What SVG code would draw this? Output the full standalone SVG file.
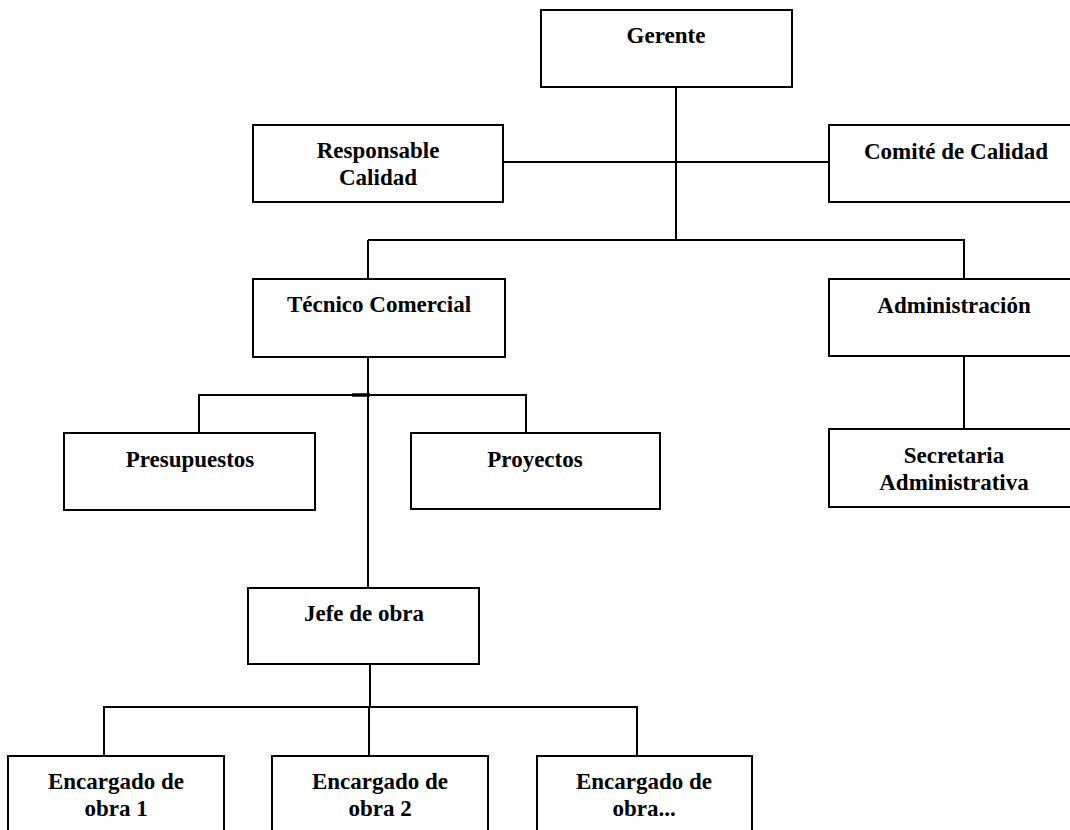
<svg xmlns="http://www.w3.org/2000/svg" width="1070" height="830" viewBox="0 0 1070 830">
<style>
.box{fill:#fff;stroke:#000;stroke-width:2}
.ln{fill:none;stroke:#000;stroke-width:2}
text{font-family:"Liberation Serif","Times New Roman",serif;font-weight:bold;font-size:23px;text-anchor:middle;fill:#000}
</style>
<rect width="1070" height="830" fill="#fff"/>
<g id="connectors">
<path class="ln" d="M676 87V240M503 162H829M368 240H964V279M368 240V279M368 357V588M199 433V395H526V433M964 356V429M370 664V707M104 756V707H637V756M369 707V756"/>
<path d="M352 395H370" stroke="#000" stroke-width="3.5"/>
</g>
<g id="gerente"><rect class="box" x="541" y="10" width="251" height="77"/><text x="666" y="43">Gerente</text></g>
<g id="responsable"><rect class="box" x="253" y="125" width="250" height="77"/><text x="378" y="158">Responsable</text><text x="378" y="185">Calidad</text></g>
<g id="comite"><rect class="box" x="829" y="125" width="252" height="77"/><text x="956" y="159">Comité de Calidad</text></g>
<g id="tecnico"><rect class="box" x="253" y="279" width="252" height="78"/><text x="379" y="312">Técnico Comercial</text></g>
<g id="administracion"><rect class="box" x="829" y="279" width="250" height="77"/><text x="954" y="313">Administración</text></g>
<g id="presupuestos"><rect class="box" x="64" y="433" width="251" height="77"/><text x="190" y="467">Presupuestos</text></g>
<g id="proyectos"><rect class="box" x="411" y="433" width="249" height="76"/><text x="535" y="467">Proyectos</text></g>
<g id="secretaria"><rect class="box" x="829" y="429" width="250" height="78"/><text x="954" y="463">Secretaria</text><text x="954" y="490">Administrativa</text></g>
<g id="jefe"><rect class="box" x="248" y="588" width="231" height="76"/><text x="364" y="621">Jefe de obra</text></g>
<g id="encargado1"><rect class="box" x="8" y="756" width="216" height="90"/><text x="116" y="789">Encargado de</text><text x="116" y="816">obra 1</text></g>
<g id="encargado2"><rect class="box" x="272" y="756" width="216" height="90"/><text x="380" y="789">Encargado de</text><text x="380" y="816">obra 2</text></g>
<g id="encargado3"><rect class="box" x="537" y="756" width="215" height="90"/><text x="644" y="789">Encargado de</text><text x="644" y="816">obra...</text></g>
</svg>
